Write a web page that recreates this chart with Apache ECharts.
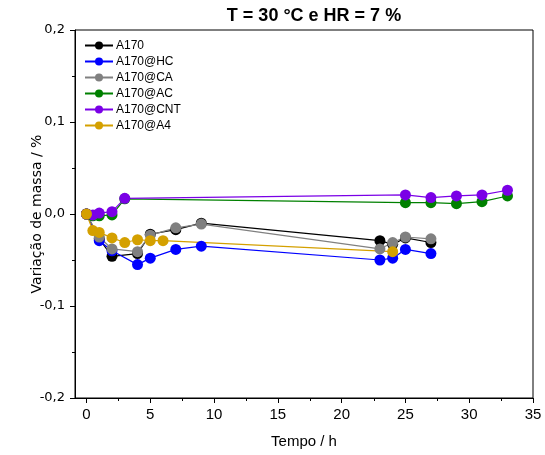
<!DOCTYPE html>
<html>
<head>
<meta charset="utf-8">
<script src="https://cdn.jsdelivr.net/npm/echarts@6/dist/echarts.min.js"></script>
<style>html,body{margin:0;padding:0;background:#fff}#c{width:545px;height:455px}</style>
</head>
<body>
<div id="c"></div>
<script>
var seriesNames = ['A170', 'A170@HC', 'A170@CA', 'A170@AC', 'A170@CNT', 'A170@A4'];
var seriesColors = ['#000000', '#0000ff', '#808080', '#008000', '#7a00e6', '#d4a000'];

var tA170 = [0, 1, 2, 4, 5, 7, 9, 23, 24, 25, 27];
var yA170 = [0, -0.027, -0.046, -0.043, -0.022, -0.017, -0.010, -0.029, -0.033, -0.026, -0.031];
var tHC = [0, 1, 2, 4, 5, 7, 9, 23, 24, 25, 27];
var yHC = [0, -0.029, -0.040, -0.055, -0.048, -0.0385, -0.035, -0.050, -0.048, -0.0385, -0.043];
var tCA = [0, 1, 2, 4, 5, 7, 9, 23, 24, 25, 27];
var yCA = [0, -0.025, -0.038, -0.041, -0.023, -0.015, -0.011, -0.038, -0.031, -0.025, -0.027];
var tAC = [0, 0.5, 1, 2, 3, 25, 27, 29, 31, 33];
var yAC = [0, -0.002, -0.002, -0.001, 0.0165, 0.0123, 0.0123, 0.0112, 0.0134, 0.0196];
var tCNT = [0, 0.5, 1, 2, 3, 25, 27, 29, 31, 33];
var yCNT = [0, -0.001, 0.001, 0.0025, 0.017, 0.0207, 0.0178, 0.0196, 0.0207, 0.0258];
var tA4 = [0, 0.5, 1, 2, 3, 4, 5, 6, 24];
var yA4 = [0, -0.018, -0.020, -0.026, -0.031, -0.028, -0.029, -0.029, -0.041];

var xMajor = [0, 5, 10, 15, 20, 25, 30, 35];
var xMinor = [2.5, 7.5, 12.5, 17.5, 22.5, 27.5, 32.5];
var yTicks = [-0.2, -0.1, 0, 0.1, 0.2];

var allT = [tA170, tHC, tCA, tAC, tCNT, tA4];
var allY = [yA170, yHC, yCA, yAC, yCNT, yA4];

function pairs(t, y) { return t.map(function (v, i) { return [v, y[i]]; }); }

var font = "'Liberation Sans', Arial, sans-serif";

var chart = echarts.init(document.getElementById('c'), null, { renderer: 'canvas' });
var series = seriesNames.map(function (n, i) {
  return {
    name: n, type: 'line', xAxisIndex: 0, yAxisIndex: 0,
    data: pairs(allT[i], allY[i]),
    symbol: 'circle', symbolSize: 11,
    lineStyle: { color: seriesColors[i], width: 1.2 },
    itemStyle: { color: seriesColors[i] },
    emphasis: { disabled: true },
    animation: false
  };
});

// minor x ticks, positioned through the axis scale
series.push({
  type: 'custom', name: 'minorTicks', silent: true, clip: false,
  data: xMinor.map(function (v) { return [v, yTicks[0]]; }),
  encode: { x: 0, y: 1 },
  renderItem: function (params, api) {
    var p = api.coord([api.value(0), api.value(1)]);
    return {
      type: 'line',
      shape: { x1: Math.round(p[0]) + 0.5, y1: p[1], x2: Math.round(p[0]) + 0.5, y2: p[1] + 3 },
      style: { stroke: '#000', lineWidth: 1 }
    };
  },
  animation: false
});

chart.setOption({
  animation: false,
  backgroundColor: '#ffffff',
  title: {
    text: 'T = 30 °C e HR = 7 %',
    left: 309, top: 2, textAlign: 'center',
    textStyle: { fontFamily: font, fontSize: 18, fontWeight: 'bold', color: '#000' }
  },
  grid: { left: 75, right: 12, top: 30, bottom: 57, show: true, borderColor: '#000', borderWidth: 1, backgroundColor: 'transparent' },
  legend: {
    orient: 'vertical', left: 79, top: 34,
    itemWidth: 28, itemHeight: 10, itemGap: 3,
    data: seriesNames,
    textStyle: { fontFamily: font, fontSize: 12, lineHeight: 13, color: '#000', padding: [0, 0, 0, -2] }
  },
  xAxis: [{
    type: 'value', min: -0.9, max: 35, position: 'bottom',
    name: 'Tempo / h', nameLocation: 'middle', nameGap: 36,
    nameTextStyle: { fontFamily: font, fontSize: 15, color: '#000' },
    axisLine: { onZero: false, lineStyle: { color: '#000', width: 1 } },
    axisTick: { inside: false, length: 5, customValues: xMajor, lineStyle: { color: '#000' } },
    axisLabel: { customValues: xMajor, fontFamily: font, fontSize: 15, color: '#000', margin: 9 },
    splitLine: { show: false }
  }],
  yAxis: [{
    type: 'value', min: -0.2, max: 0.2, interval: 0.1,
    name: 'Variação de massa / %', nameLocation: 'middle', nameGap: 31, nameMoveOverlap: false,
    nameTextStyle: { fontFamily: "'DejaVu Sans', sans-serif", fontSize: 14, color: '#000' },
    axisLine: { onZero: false, lineStyle: { color: '#000', width: 1 } },
    axisTick: { inside: false, length: 5, lineStyle: { color: '#000' } },
    minorTick: { show: true, splitNumber: 2, length: 3, lineStyle: { color: '#000' } },
    axisLabel: {
      fontFamily: "'DejaVu Sans', sans-serif", fontSize: 13, color: '#000', margin: 10,
      formatter: function (v) { return v.toFixed(1).replace('.', ','); }
    },
    splitLine: { show: false }
  }],
  series: series
});
</script>
</body>
</html>
